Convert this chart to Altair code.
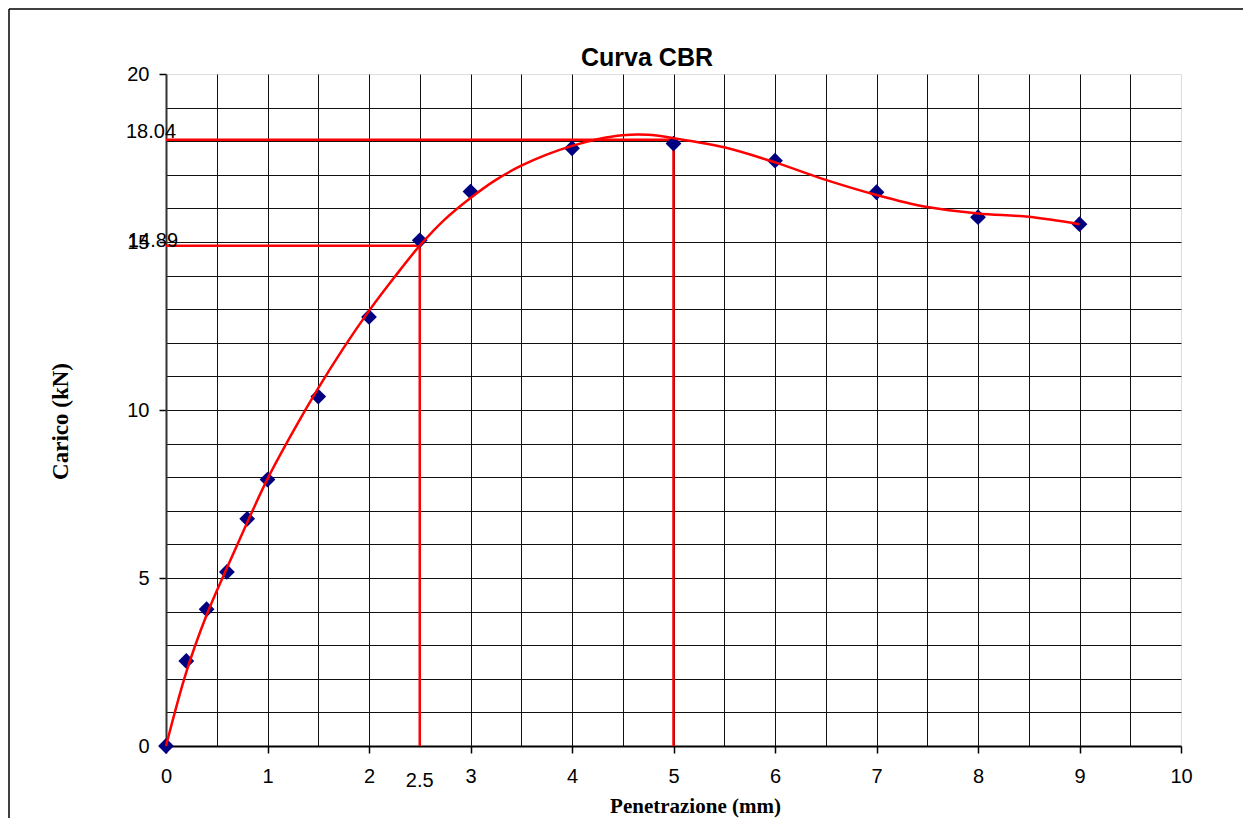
import altair as alt
import pandas as pd

# Measured points (Penetrazione mm, Carico kN)
pen_pts = [0, 0.2, 0.4, 0.6, 0.8, 1.0, 1.5, 2.0, 2.5, 3.0, 4.0, 5.0, 6.0, 7.0, 8.0, 9.0]
load_pts = [0, 2.53, 4.07, 5.18, 6.76, 7.93, 10.40, 12.77, 15.05, 16.50, 17.79, 17.93, 17.42, 16.48, 15.74, 15.53]

# Smoothed curve
curve_pen = [0, 0.2, 0.4, 0.6, 0.8, 1.0, 1.25, 1.5, 1.75, 2.0, 2.25, 2.5, 2.75, 3.0, 3.25,
             3.5, 3.75, 4.0, 4.25, 4.5, 4.75, 5.0, 5.5, 6.0, 6.5, 7.0, 7.5, 8.0, 8.5, 9.0]
curve_load = [0, 2.2, 3.9, 5.3, 6.65, 7.95, 9.35, 10.65, 11.85, 12.95, 13.95, 14.89, 15.68, 16.31, 16.85,
              17.27, 17.6, 17.86, 18.06, 18.18, 18.19, 18.09, 17.82, 17.37, 16.85, 16.4, 16.04, 15.85, 15.75, 15.53]

# Reference readings
ref_pen = [2.5, 5.0]
ref_load = [14.89, 18.04]
ref_text = ["14.89", "18.04"]

x_grid = [i * 0.5 for i in range(21)]
y_grid = list(range(21))

W, H = 1015, 672
SANS = "Liberation Sans"
SERIF = "Liberation Serif"

xs = alt.Scale(domain=[0, 10], nice=False, zero=False)
ys = alt.Scale(domain=[0, 20], nice=False, zero=False)

x_axis = alt.Axis(
    values=x_grid, format="~g",
    labelExpr="datum.value % 1 === 0 ? datum.label : ''",
    tickOpacity={"condition": {"test": "datum.value % 1 !== 0", "value": 0}, "value": 1},
    gridOpacity={"condition": {"test": "datum.value === 10 || datum.value === 0", "value": 0}, "value": 1},
    grid=True, gridColor="#111111", gridWidth=1,
    domainColor="#000000", domainWidth=2,
    tickColor="#000000", tickSize=7, tickWidth=1.5,
    labelFont=SANS, labelFontSize=20, labelColor="#000000", labelPadding=13,
    labelFlush=False, labelOverlap=False,
    title="Penetrazione (mm)", titleFont=SERIF, titleFontSize=21, titleFontWeight="bold",
    titleColor="#000000", titleX=529, titleY=60, titleBaseline="middle", titleAlign="center",
)
y_axis = alt.Axis(
    values=y_grid, format="~g",
    labelExpr="datum.value % 5 === 0 ? datum.label : ''",
    tickOpacity={"condition": {"test": "datum.value % 5 !== 0", "value": 0}, "value": 1},
    gridOpacity={"condition": {"test": "datum.value === 20 || datum.value === 0", "value": 0}, "value": 1},
    grid=True, gridColor="#111111", gridWidth=1,
    domainColor="#333333", domainWidth=2,
    tickColor="#000000", tickSize=7, tickWidth=1.5,
    labelFont=SANS, labelFontSize=20, labelColor="#000000", labelPadding=10,
    labelFlush=False, labelOverlap=False,
    title="Carico (kN)", titleFont=SERIF, titleFontSize=23, titleFontWeight="bold",
    titleColor="#000000", titleX=-106, titleY=347, titleAngle=270,
    titleBaseline="middle", titleAlign="center",
)

X = alt.X("x:Q", scale=xs, axis=x_axis)
Y = alt.Y("y:Q", scale=ys, axis=y_axis)
X0 = alt.X("x0:Q", scale=xs, axis=x_axis)
Y0 = alt.Y("y0:Q", scale=ys, axis=y_axis)

pts_df = pd.DataFrame({"x": pen_pts, "y": load_pts})
curve_df = pd.DataFrame({"x": curve_pen, "y": curve_load})
ref_df = pd.DataFrame({"x": ref_pen, "y": ref_load, "x0": [0, 0], "y0": [0, 0], "t": ref_text})

h_rules = alt.Chart(ref_df).mark_rule(color="#ff0000", strokeWidth=2.5).encode(x=X0, x2="x:Q", y=Y)
v_rules = alt.Chart(ref_df).mark_rule(color="#ff0000", strokeWidth=2.5).encode(x=X, y=Y0, y2="y:Q")

points = alt.Chart(pts_df).mark_point(shape="diamond", filled=True, size=250,
                                      color="#000080", opacity=1).encode(x=X, y=Y)
curve = alt.Chart(curve_df).mark_line(color="#ff0000", strokeWidth=2.5,
                                      interpolate="catmull-rom").encode(x=X, y=Y)

lab1 = alt.Chart(ref_df.iloc[[0]]).mark_text(
    font=SANS, fontSize=20, color="#000000", align="left", baseline="alphabetic",
    dx=-38, dy=1).encode(x=X0, y=Y, text="t:N")
lab2 = alt.Chart(ref_df.iloc[[1]]).mark_text(
    font=SANS, fontSize=20, color="#000000", align="left", baseline="alphabetic",
    dx=-40, dy=-2).encode(x=X0, y=Y, text="t:N")
lab25 = alt.Chart(ref_df.iloc[[0]]).mark_text(
    font=SANS, fontSize=20, color="#000000", align="center", baseline="top",
    dy=25).encode(x=X, y=Y0, text=alt.value("2.5"))

one = pd.DataFrame({"k": [0]})
title = alt.Chart(one).mark_text(
    text="Curva CBR", font=SANS, fontSize=25, fontWeight="bold", color="#000000",
    align="center", baseline="alphabetic").encode(x=alt.value(481), y=alt.value(-8))
frame_top = alt.Chart(one).mark_rule(color="#000000", strokeWidth=1.5).encode(
    x=alt.value(-157), x2=alt.value(W + 70), y=alt.value(-65))
frame_left = alt.Chart(one).mark_rule(color="#000000", strokeWidth=1.5).encode(
    x=alt.value(-157), y=alt.value(-65), y2=alt.value(H + 75))

chart = alt.layer(
    h_rules, v_rules, points, curve, lab1, lab2, lab25, title, frame_top, frame_left
).properties(
    width=W, height=H,
    autosize=alt.AutoSizeParams(type="none"),
    padding={"left": 158, "top": 66, "right": 62, "bottom": 72},
).configure_view(
    stroke="#808080", strokeWidth=2, fill="#ffffff"
).configure(background="#ffffff")

chart.save("out.html", embed_options={"renderer": "svg", "actions": False})
